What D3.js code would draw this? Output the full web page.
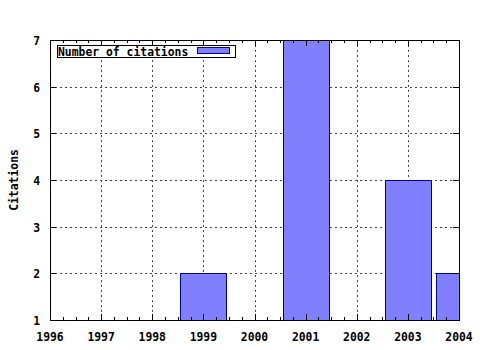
<!DOCTYPE html>
<html>
<head>
<meta charset="utf-8">
<script src="https://cdn.jsdelivr.net/npm/d3@7"></script>
<style>
  body { margin: 0; background: #fff; }
  text { font-family: "DejaVu Sans Mono", "Liberation Mono", monospace; font-weight: bold; font-size: 11.4px; fill: #000; }
</style>
</head>
<body>
<div id="chart"></div>
<script>
// data
const years = [1999, 2001, 2003, 2004];
const citations = [2, 7, 4, 2];
const xTicks = [1996, 1997, 1998, 1999, 2000, 2001, 2002, 2003, 2004];
const yTicks = [1, 2, 3, 4, 5, 6, 7];
const seriesName = "Number of citations";

const width = 480, height = 350;
const margin = { top: 40, right: 21, bottom: 30, left: 50 };
const innerW = width - margin.left - margin.right;
const innerH = height - margin.top - margin.bottom;

const svg = d3.select("#chart").append("svg")
  .attr("width", width).attr("height", height);

const g = svg.append("g")
  .attr("transform", `translate(${margin.left},${margin.top})`);

const x = d3.scaleLinear().domain([1996, 2004]).range([0, innerW]);
const y = d3.scaleLinear().domain([1, 7]).range([innerH, 0]);

// clip
svg.append("defs").append("clipPath").attr("id", "plot")
  .append("rect").attr("width", innerW).attr("height", innerH);

// grid
const grid = g.append("g").attr("stroke", "#444").attr("stroke-width", 1)
  .attr("stroke-dasharray", "2,3").attr("shape-rendering", "crispEdges");
grid.selectAll("line.v").data(xTicks.slice(1, -1)).join("line")
  .attr("x1", d => Math.round(x(d)) + 0.5).attr("x2", d => Math.round(x(d)) + 0.5)
  .attr("y1", 0).attr("y2", innerH);
grid.selectAll("line.h").data(yTicks.slice(1, -1)).join("line")
  .attr("y1", d => Math.round(y(d)) + 0.5).attr("y2", d => Math.round(y(d)) + 0.5)
  .attr("x1", 0).attr("x2", innerW);

// bars
const bw = 0.9;
g.append("g").attr("clip-path", "url(#plot)")
  .selectAll("rect").data(years).join("rect")
  .attr("x", (d) => Math.round(x(d - bw / 2)) + 0.5)
  .attr("width", (d) => Math.round(x(d + bw / 2)) - Math.round(x(d - bw / 2)))
  .attr("y", (d, i) => Math.round(y(citations[i])) + 0.5)
  .attr("height", (d, i) => innerH - Math.round(y(citations[i])))
  .attr("fill", "#8080ff")
  .attr("stroke", "#00009a")
  .attr("stroke-width", 1)
  .attr("shape-rendering", "crispEdges");

// axes
const axisOpts = (a, size) => a.tickSizeInner(size).tickSizeOuter(0).tickPadding(8);

const xMinor = d3.range(1996, 2004.01, 0.25);
g.append("g").attr("transform", `translate(0,${innerH})`)
  .call(axisOpts(d3.axisTop(x).tickValues(xMinor).tickFormat(""), 3));
g.append("g")
  .call(axisOpts(d3.axisBottom(x).tickValues(xMinor).tickFormat(""), 3));
g.append("g").attr("transform", `translate(0,${innerH})`)
  .call(axisOpts(d3.axisTop(x).tickValues(xTicks).tickFormat(""), 6));
g.append("g")
  .call(axisOpts(d3.axisBottom(x).tickValues(xTicks).tickFormat(""), 6));
g.append("g")
  .call(axisOpts(d3.axisRight(y).tickValues(yTicks).tickFormat(""), 6));
g.append("g").attr("transform", `translate(${innerW},0)`)
  .call(axisOpts(d3.axisLeft(y).tickValues(yTicks).tickFormat(""), 6));

g.selectAll(".domain").remove();
g.selectAll(".tick line").attr("stroke", "#000").attr("shape-rendering", "crispEdges");

// frame
g.append("rect").attr("x", 0.5).attr("y", 0.5)
  .attr("width", innerW).attr("height", innerH)
  .attr("fill", "none").attr("stroke", "#000").attr("shape-rendering", "crispEdges");

// tick labels
g.append("g").selectAll("text").data(xTicks).join("text")
  .attr("x", d => x(d)).attr("y", innerH + 21)
  .attr("text-anchor", "middle").text(d => d);
g.append("g").selectAll("text").data(yTicks).join("text")
  .attr("x", -10).attr("y", d => y(d) + 5)
  .attr("text-anchor", "end").text(d => d);

// y label
svg.append("text")
  .attr("transform", `translate(18,${margin.top + innerH / 2}) rotate(-90)`)
  .attr("text-anchor", "middle").text("Citations");

// legend
const lg = g.append("g").attr("transform", "translate(7,5)");
lg.append("rect").attr("x", 0.5).attr("y", 0.5).attr("width", 178).attr("height", 12)
  .attr("fill", "#fff").attr("stroke", "#000").attr("shape-rendering", "crispEdges");
lg.append("text").attr("x", 1).attr("y", 10.5).text(seriesName);
lg.append("rect").attr("x", 140.5).attr("y", 2.5).attr("width", 32).attr("height", 6)
  .attr("fill", "#8080ff").attr("stroke", "#00009a").attr("shape-rendering", "crispEdges");
</script>
</body>
</html>
